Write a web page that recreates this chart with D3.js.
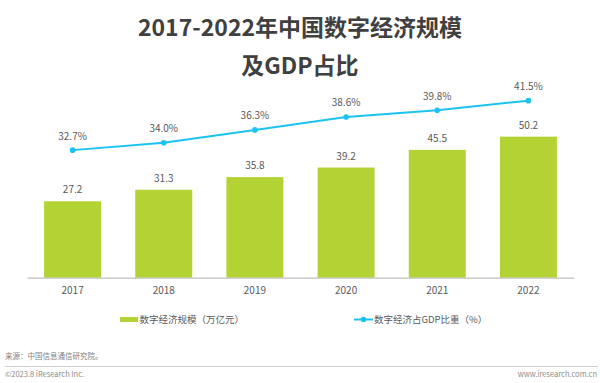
<!DOCTYPE html>
<html>
<head>
<meta charset="utf-8">
<script src="https://cdn.jsdelivr.net/npm/d3@7/dist/d3.min.js"></script>
<style>
  html, body { margin: 0; padding: 0; background: #fff; }
  svg { display: block; }
  text { font-family: "Noto Sans CJK SC", "Noto Sans", sans-serif; }
</style>
</head>
<body>
<svg id="chart" width="600" height="383"></svg>
<script>
const years = ["2017", "2018", "2019", "2020", "2021", "2022"];
const scaleValues = [27.2, 31.3, 35.8, 39.2, 45.5, 50.2];
const shareValues = [32.7, 34.0, 36.3, 38.6, 39.8, 41.5];
const titleLines = ["2017-2022年中国数字经济规模", "及GDP占比"];
const legendLabels = ["数字经济规模（万亿元）", "数字经济占GDP比重（%）"];
const sourceText = "来源：中国信息通信研究院。";
const footerLeft = "©2023.8 iResearch Inc.";
const footerRight = "www.iresearch.com.cn";

const barColor = "#b3d234";
const lineColor = "#1cc3f2";
const labelColor = "#595959";

const svg = d3.select("#chart");
const W = 600;
const plotTop = 81, plotBottom = 277.7;

const x = d3.scaleBand().domain(years).range([27, 574]).paddingInner(0.375).paddingOuter(0.1875);
const yBar = d3.scaleLinear().domain([0, 70]).range([plotBottom, plotTop]);
const yLine = d3.scaleLinear().domain([10, 45]).range([plotBottom, plotTop]);

// Title
svg.selectAll(".title").data(titleLines).join("text")
  .attr("class", "title")
  .attr("x", W / 2)
  .attr("y", (d, i) => 36 + i * 38)
  .attr("text-anchor", "middle")
  .attr("font-size", 23)
  .attr("font-weight", "bold")
  .attr("fill", "#404040")
  .text(d => d);

// Bars
svg.selectAll(".bar").data(years).join("rect")
  .attr("class", "bar")
  .attr("x", d => x(d))
  .attr("width", x.bandwidth())
  .attr("y", (d, i) => yBar(scaleValues[i]))
  .attr("height", (d, i) => plotBottom - yBar(scaleValues[i]))
  .attr("fill", barColor);

// Bar labels
svg.selectAll(".barlabel").data(years).join("text")
  .attr("class", "barlabel")
  .attr("x", d => x(d) + x.bandwidth() / 2)
  .attr("y", (d, i) => yBar(scaleValues[i]) - 8)
  .attr("text-anchor", "middle")
  .attr("font-size", 10)
  .attr("fill", labelColor)
  .text((d, i) => scaleValues[i].toFixed(1));

// X axis
const xAxis = d3.axisBottom(x).tickSize(0).tickPadding(9);
const gx = svg.append("g").attr("transform", `translate(0,${plotBottom})`).call(xAxis);
gx.select(".domain").attr("stroke", "#bfbfbf").attr("stroke-width", 1.2);
gx.selectAll("text")
  .attr("font-size", 10)
  .attr("fill", labelColor)
  .attr("font-family", "'Noto Sans CJK SC', 'Noto Sans', sans-serif");

// Line
const cx = d => x(d) + x.bandwidth() / 2;
const line = d3.line().x((d, i) => cx(years[i])).y(d => yLine(d));
svg.append("path")
  .datum(shareValues)
  .attr("d", line)
  .attr("fill", "none")
  .attr("stroke", lineColor)
  .attr("stroke-width", 2);

svg.selectAll(".dot").data(shareValues).join("circle")
  .attr("class", "dot")
  .attr("cx", (d, i) => cx(years[i]))
  .attr("cy", d => yLine(d))
  .attr("r", 2.8)
  .attr("fill", lineColor);

svg.selectAll(".linelabel").data(shareValues).join("text")
  .attr("class", "linelabel")
  .attr("x", (d, i) => cx(years[i]))
  .attr("y", d => yLine(d) - 10.5)
  .attr("text-anchor", "middle")
  .attr("font-size", 10)
  .attr("fill", labelColor)
  .text(d => d.toFixed(1) + "%");

// Legend
const lg = svg.append("g");
lg.append("rect").attr("x", 120).attr("y", 317).attr("width", 18).attr("height", 5).attr("fill", barColor);
lg.append("text").attr("x", 139.5).attr("y", 323.3).attr("font-size", 9.5).attr("fill", labelColor).text(legendLabels[0]);
lg.append("line").attr("x1", 354).attr("x2", 373).attr("y1", 319.5).attr("y2", 319.5).attr("stroke", lineColor).attr("stroke-width", 2);
lg.append("circle").attr("cx", 363.5).attr("cy", 319.5).attr("r", 2.8).attr("fill", lineColor);
lg.append("text").attr("x", 374).attr("y", 323.3).attr("font-size", 9.5).attr("fill", labelColor).text(legendLabels[1]);

// Source & footer
svg.append("text").attr("x", 5).attr("y", 358.5).attr("font-size", 7.5).attr("fill", "#7f7f7f").text(sourceText);
svg.append("line").attr("x1", 5).attr("x2", 598).attr("y1", 366.5).attr("y2", 366.5).attr("stroke", "#d0d0d0").attr("stroke-width", 1);
svg.append("text").attr("x", 5).attr("y", 376.5).attr("font-size", 7.5).attr("fill", "#8c8c8c").text(footerLeft);
svg.append("text").attr("x", 597).attr("y", 376.5).attr("text-anchor", "end").attr("font-size", 7.5).attr("fill", "#8c8c8c").text(footerRight);
</script>
</body>
</html>
